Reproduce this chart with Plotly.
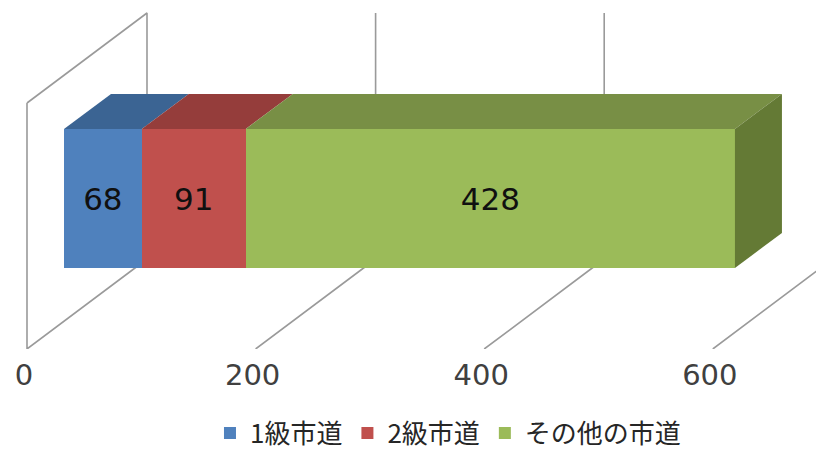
import plotly.graph_objects as go

# Data
series_names = ["1級市道", "2級市道", "その他の市道"]
series_values = [68, 91, 428]
tick_values = [0, 200, 400, 600]

# Colours
front_colors = ["#4F81BD", "#C0504D", "#9BBB59"]
top_colors = ["#3B6493", "#953D3B", "#788F45"]
side_color = "#647A35"
grid_color = "#9A9A9A"

# Oblique-projection geometry (pixels per unit and offsets)
W, H = 816, 449
BOTTOM = 100
PLOT_H = H - BOTTOM
X0_PX = 27
SCALE = 1.143
WALL_DX, WALL_DY, WALL_H = 120 / SCALE, 90, 246
BAR_INSET = 37 / SCALE
BAR_DX, BAR_DY = 47 / SCALE, 35
BAR_LOW, BAR_HIGH = 81, 220

xmin = -X0_PX / SCALE
xmax = (W - X0_PX) / SCALE

fig = go.Figure()

# Walls and floor lines (main subplot, beneath the bars)
for i, v in enumerate(tick_values):
    xs = [v, v + WALL_DX, v + WALL_DX]
    ys = [0, WALL_DY, WALL_DY + WALL_H]
    if i == 0:
        xs = [v, v, v + WALL_DX, v + WALL_DX, v]
        ys = [WALL_H, 0, WALL_DY, WALL_DY + WALL_H, WALL_H]
    fig.add_trace(go.Scatter(x=xs, y=ys, mode="lines", showlegend=False,
                             line=dict(color=grid_color, width=1.6),
                             hoverinfo="skip", xaxis="x", yaxis="y"))

# Front faces
for name, val, col in zip(series_names, series_values, front_colors):
    fig.add_trace(go.Bar(x=[val], y=[(BAR_LOW + BAR_HIGH) / 2], width=[BAR_HIGH - BAR_LOW],
                         orientation="h", name=name, marker=dict(color=col, line=dict(width=0)),
                         text=[str(val)], textposition="inside", insidetextanchor="middle",
                         textangle=0, constraintext="none",
                         textfont=dict(family="DejaVu Sans", size=31, color="#101010"),
                         xaxis="x2", yaxis="y"))

# Top faces and end face
cum = 0
for val, col in zip(series_values, top_colors):
    a, b = cum, cum + val
    fig.add_trace(go.Scatter(
        x=[a, b, b + BAR_DX, a + BAR_DX, a],
        y=[BAR_HIGH, BAR_HIGH, BAR_HIGH + BAR_DY, BAR_HIGH + BAR_DY, BAR_HIGH],
        mode="lines", fill="toself", fillcolor=col, line=dict(width=0),
        showlegend=False, hoverinfo="skip", xaxis="x2", yaxis="y"))
    cum = b
fig.add_trace(go.Scatter(
    x=[cum, cum + BAR_DX, cum + BAR_DX, cum, cum],
    y=[BAR_LOW, BAR_LOW + BAR_DY, BAR_HIGH + BAR_DY, BAR_HIGH, BAR_LOW],
    mode="lines", fill="toself", fillcolor=side_color, line=dict(width=0),
    showlegend=False, hoverinfo="skip", xaxis="x2", yaxis="y"))

fig.update_layout(
    width=W, height=H, margin=dict(l=0, r=0, t=0, b=BOTTOM, autoexpand=False),
    paper_bgcolor="white", plot_bgcolor="white", barmode="stack",
    xaxis=dict(range=[xmin, xmax], tickvals=tick_values, ticktext=[str(v) for v in tick_values],
               showgrid=False, zeroline=False, showline=False, ticks="", automargin=False,
               ticklabelstandoff=6, ticklabelshift=-3,
               tickfont=dict(family="DejaVu Sans", size=29, color="#404040")),
    xaxis2=dict(range=[xmin - BAR_INSET, xmax - BAR_INSET], overlaying="x", visible=False),
    yaxis=dict(range=[0, PLOT_H], visible=False),
    showlegend=True,
    legend=dict(orientation="h", x=0.549, xanchor="center", y=(PLOT_H - 433) / PLOT_H, yanchor="middle",
                traceorder="normal", font=dict(family="Noto Sans CJK JP", size=26, color="#262626"),
                itemwidth=30, bgcolor="rgba(0,0,0,0)"),
)
fig.write_html("out.html", post_script="document.body.style.margin='0';",
               config={"displayModeBar": False})
